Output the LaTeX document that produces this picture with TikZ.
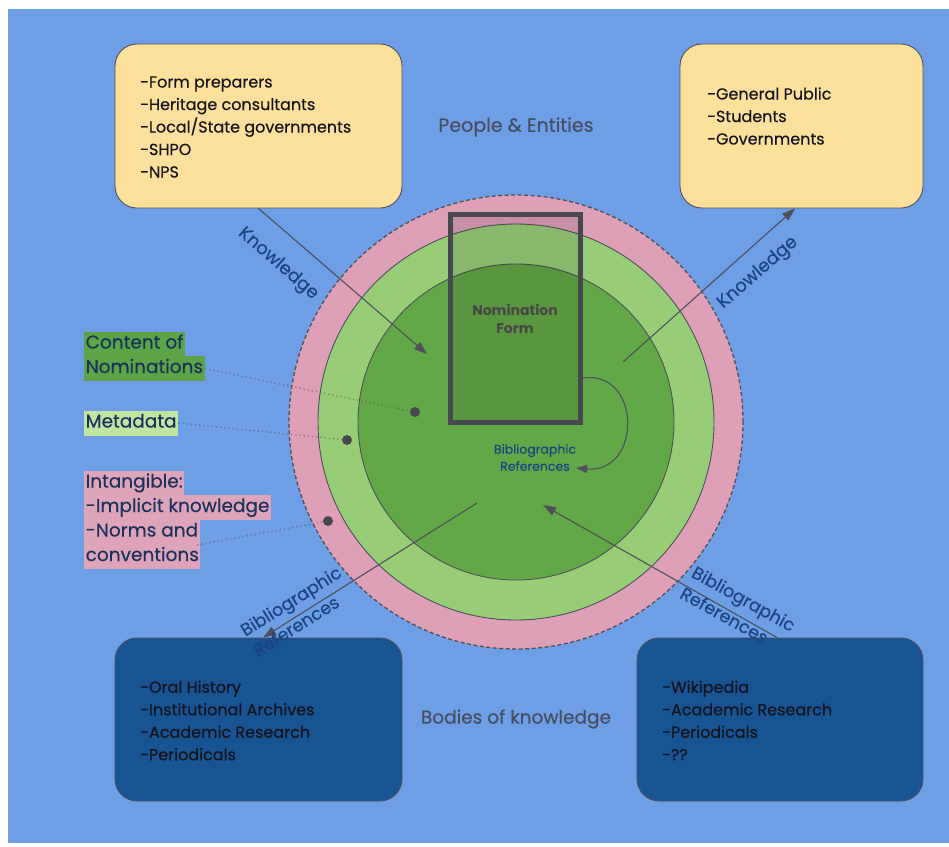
\documentclass[tikz,border=0pt]{standalone}
\usepackage{fontspec}
\setmainfont{Poppins}
\newfontfamily\pmed{Poppins}[FakeBold=0.35]
\usetikzlibrary{arrows.meta,calc}
\definecolor{bg}{RGB}{110,158,230}
\definecolor{pinkring}{RGB}{221,160,182}
\definecolor{lightgreen}{RGB}{152,205,120}
\definecolor{darkgreen}{RGB}{99,168,72}
\definecolor{yellowbox}{RGB}{253,224,156}
\definecolor{bluebox}{RGB}{24,84,146}
\definecolor{edgegray}{RGB}{80,80,90}
\definecolor{labelblue}{RGB}{28,68,128}
\definecolor{titlegray}{RGB}{70,78,95}
\definecolor{hlgreen}{RGB}{92,165,70}
\definecolor{hllight}{RGB}{190,230,160}
\definecolor{hlpink}{RGB}{222,165,186}
\definecolor{navytext}{RGB}{28,48,92}
\definecolor{boxtext}{RGB}{20,20,28}
\begin{document}
\begin{tikzpicture}[x=1pt,y=-1pt,
  ring/.style={circle,draw=edgegray,line width=0.9pt,inner sep=0pt},
  ybox/.style={draw=edgegray,line width=0.9pt,fill=yellowbox,rounded corners=22pt,inner sep=0pt},
  bbox/.style={draw=edgegray,line width=0.9pt,fill=bluebox,rounded corners=22pt,inner sep=0pt},
  boxtxt/.style={align=left,anchor=west,inner sep=0pt,text=boxtext,font=\pmed\fontsize{16}{22.5}\selectfont},
  arrowline/.style={draw=edgegray,line width=1.1pt,-{Triangle[length=13pt,width=9pt]}},
  lbl/.style={text=labelblue,inner sep=0pt,font=\pmed\fontsize{18}{18}\selectfont},
  title/.style={text=titlegray,inner sep=0pt,font=\pmed\fontsize{19}{22}\selectfont},
  hl/.style={anchor=west,inner xsep=1.5pt,inner ysep=0pt,minimum height=25pt,text height=13pt,text depth=4pt,text=navytext,font=\pmed\fontsize{18.5}{19}\selectfont},
  dotline/.style={draw=edgegray,draw opacity=0.55,line width=1.3pt,dash pattern=on 1.2pt off 3pt},
  dot/.style={circle,fill=edgegray!90!black,inner sep=0pt,minimum size=10pt}
]
\useasboundingbox (0,0) rectangle (949,846);
\fill[white] (0,0) rectangle (949,846);
\fill[bg] (8,9) rectangle (949,843);

% rings
\node[ring,fill=pinkring,line width=1.3pt,dash pattern=on 4pt off 2.5pt,minimum size=454pt] (outer) at (516,422) {};
\node[ring,fill=lightgreen,minimum size=396pt] (middle) at (516,422) {};
\node[ring,fill=darkgreen,minimum size=316pt] (inner) at (516,422) {};

% nomination form
\node[draw=edgegray!90!black,line width=5.5pt,fill=black,fill opacity=0.1,minimum width=130pt,minimum height=208pt,inner sep=0pt] (form) at (515.5,318.5) {};
\node[text=black!72,font=\bfseries\fontsize{14}{18.5}\selectfont,align=center,inner sep=0pt] (formlbl) at (515,319) {Nomination\\Form};
\node[text=labelblue,font=\pmed\fontsize{12.5}{17}\selectfont,align=center,inner sep=0pt] (biblbl) at (535,457.5) {Bibliographic\\References};

% boxes
\node[ybox,minimum width=287pt,minimum height=164pt] (tl) at (258.5,126) {};
\node[ybox,minimum width=243pt,minimum height=164pt] (tr) at (801.5,126) {};
\node[bbox,minimum width=287pt,minimum height=163pt] (bl) at (258.5,719.5) {};
\node[bbox,minimum width=286pt,minimum height=163pt] (br) at (780,719.5) {};

\node[boxtxt] (tltxt) at (140,127) {-Form preparers\\-Heritage consultants\\-Local/State governments\\-SHPO\\-NPS};
\node[boxtxt] (trtxt) at (707,116) {-General Public\\-Students\\-Governments};
\node[boxtxt] (bltxt) at (140,720.5) {-Oral History\\-Institutional Archives\\-Academic Research\\-Periodicals};
\node[boxtxt] (brtxt) at (662,720.5) {-Wikipedia\\-Academic Research\\-Periodicals\\-??};

\node[title] (people) at (516,127) {People \& Entities};
\node[title,font=\pmed\fontsize{18.5}{22}\selectfont] (bodies) at (516,719) {Bodies of knowledge};

% arrows
\coordinate (k1end) at (427,354);
\coordinate (k2start) at (623,362);
\coordinate (b1start) at (477,503);
\coordinate (b2end) at (543,505);
\coordinate (c1) at (583,378);
\coordinate (c2) at (576,468);
\draw[arrowline] (tl.south) -- (k1end);
\draw[arrowline] (k2start) -- ($(tr.south)+(-6.5,0)$);
\draw[arrowline] (b1start) -- ($(bl.north)+(4.5,0)$);
\draw[arrowline] ($(br.north)+(-3,0)$) -- (b2end);
\draw[draw=edgegray,line width=1.1pt,-{Triangle[length=11pt,width=8pt]}] (c1) .. controls (642,370) and (642,474) .. (c2);

\node[lbl,rotate=-41] (k1lbl) at (278,264) {Knowledge};
\node[lbl,rotate=41] (k2lbl) at (758,273) {Knowledge};
\node[lbl,rotate=32,align=left,font=\pmed\fontsize{17.5}{24}\selectfont] (b1lbl) at (297,611) {Bibliographic\\References};
\node[lbl,rotate=-29,align=left,font=\pmed\fontsize{17.5}{24}\selectfont] (b2lbl) at (738,609) {Bibliographic\\References};

% left labels
\node[hl,fill=hlgreen] (con1) at (84,344) {Content of};
\node[hl,fill=hlgreen] (con2) at (84,368.5) {Nominations};
\node[hl,fill=hllight] (meta) at (84,423) {Metadata};
\node[hl,fill=hlpink] (int1) at (84,483) {Intangible:};
\node[hl,fill=hlpink] (int2) at (84,507.5) {-Implicit knowledge};
\node[hl,fill=hlpink] (int3) at (84,532) {-Norms and};
\node[hl,fill=hlpink] (int4) at (84,556.5) {conventions};

\node[dot] (d1) at (415,412) {};
\node[dot] (d2) at (347,440) {};
\node[dot] (d3) at (328,521) {};
\coordinate (intend) at (197,545);
\draw[dotline] (con2.east) -- (d1);
\draw[dotline] (meta.east) -- (d2);
\draw[dotline] (intend) -- (d3);
\end{tikzpicture}
\end{document}
